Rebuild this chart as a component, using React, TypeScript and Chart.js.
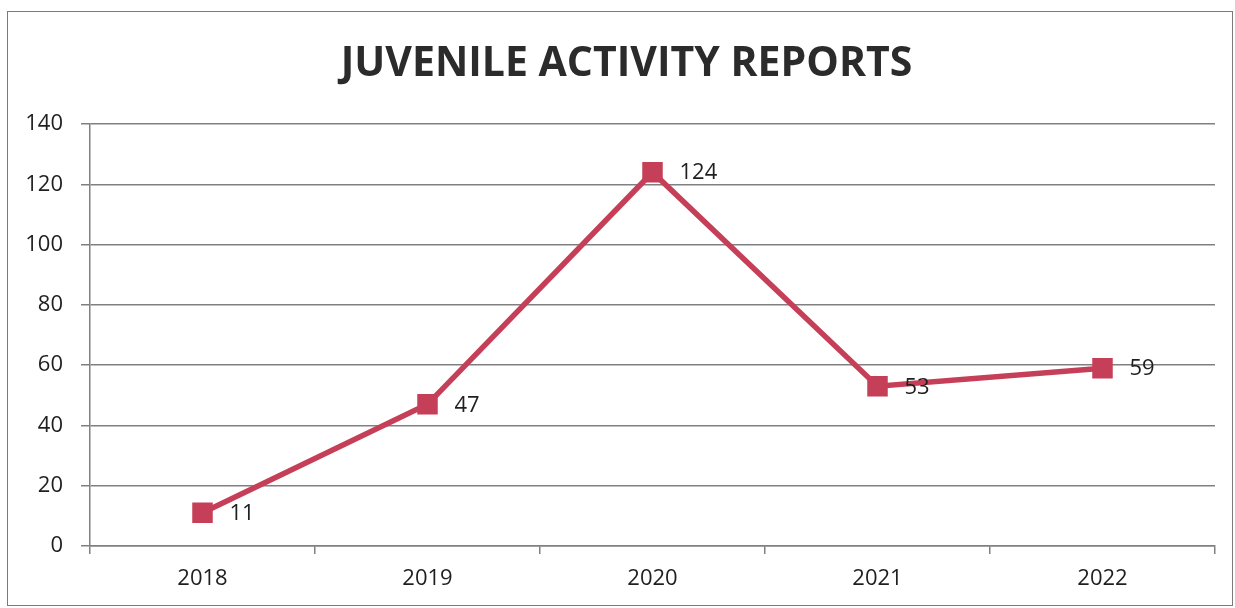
import React, { useEffect, useRef } from "react";
import { Chart, registerables } from "chart.js";

Chart.register(...registerables);

const TITLE = "JUVENILE ACTIVITY REPORTS";
const years = ["2018", "2019", "2020", "2021", "2022"];
const reports = [11, 47, 124, 53, 59];
const yTicks = [0, 20, 40, 60, 80, 100, 120, 140];

const LINE_COLOR = "#C63F58";
const GRID_COLOR = "#808080";
const TEXT_COLOR = "#1f1f1f";
const FONT = "'Open Sans', 'DejaVu Sans', sans-serif";

const valueLabels = {
  id: "valueLabels",
  afterDatasetsDraw(chart: any) {
    const ctx = chart.ctx;
    ctx.save();
    ctx.font = `22px ${FONT}`;
    ctx.fillStyle = TEXT_COLOR;
    ctx.textAlign = "left";
    ctx.textBaseline = "middle";
    chart.data.datasets.forEach((ds: any, di: number) => {
      const meta = chart.getDatasetMeta(di);
      meta.data.forEach((pt: any, i: number) => {
        ctx.fillText(String(ds.data[i]), pt.x + 27, pt.y + 1);
      });
    });
    ctx.restore();
  },
};

// Title centred over the whole framed chart (a little left of the plot centre)
const chartTitle = {
  id: "chartTitle",
  afterDraw(chart: any) {
    const ctx = chart.ctx;
    ctx.save();
    ctx.font = `bold 41px ${FONT}`;
    ctx.fillStyle = "#2b2b2b";
    ctx.textAlign = "center";
    ctx.textBaseline = "middle";
    ctx.fillText(TITLE, 626.5, 64);
    ctx.restore();
  },
};

export default function App() {
  const ref = useRef<HTMLCanvasElement | null>(null);

  useEffect(() => {
    if (!ref.current) return;
    const chart = new Chart(ref.current, {
      type: "line",
      data: {
        labels: years,
        datasets: [
          {
            label: "Reports",
            data: reports,
            borderColor: LINE_COLOR,
            backgroundColor: LINE_COLOR,
            borderWidth: 5.5,
            pointStyle: "rect",
            pointRadius: 14.5,
            pointBorderWidth: 0,
            pointBackgroundColor: LINE_COLOR,
            tension: 0,
          },
        ],
      },
      options: {
        animation: false,
        responsive: false,
        maintainAspectRatio: false,
        layout: { padding: { left: 0, right: 20, top: 124, bottom: 0 } },
        plugins: {
          legend: { display: false },
          tooltip: { enabled: false },
          title: { display: false },
        },
        scales: {
          x: {
            type: "category",
            offset: true,
            afterFit: (s: any) => {
              s.height = 62;
            },
            grid: {
              offset: true,
              drawOnChartArea: false,
              drawTicks: true,
              tickLength: 8,
              color: GRID_COLOR,
              lineWidth: 1.5,
            },
            border: { display: true, color: GRID_COLOR, width: 1.5 },
            ticks: {
              color: TEXT_COLOR,
              font: { family: FONT, size: 22 },
              padding: 12,
              maxRotation: 0,
            },
          },
          y: {
            min: 0,
            max: 140,
            afterFit: (s: any) => {
              s.width = 90;
            },
            afterBuildTicks: (s: any) => {
              s.ticks = yTicks.map((v) => ({ value: v }));
            },
            grid: {
              color: GRID_COLOR,
              lineWidth: 1.5,
              tickLength: 9,
            },
            border: { display: true, color: GRID_COLOR, width: 1.5 },
            ticks: {
              color: TEXT_COLOR,
              font: { family: FONT, size: 22 },
              padding: 18,
            },
          },
        },
      },
      plugins: [valueLabels, chartTitle],
    });
    return () => chart.destroy();
  }, []);

  return (
    <div
      style={{
        position: "absolute",
        left: 0,
        top: 0,
        width: 1235,
        height: 608,
        background: "#ffffff",
        overflow: "hidden",
      }}
    >
      <canvas
        ref={ref}
        width={1235}
        height={608}
        style={{ position: "absolute", left: 0, top: 0, width: 1235, height: 608 }}
      />
      <div
        style={{
          position: "absolute",
          left: 7,
          top: 11,
          width: 1224,
          height: 593,
          border: "1.5px solid #7a7a7a",
          pointerEvents: "none",
        }}
      />
    </div>
  );
}
